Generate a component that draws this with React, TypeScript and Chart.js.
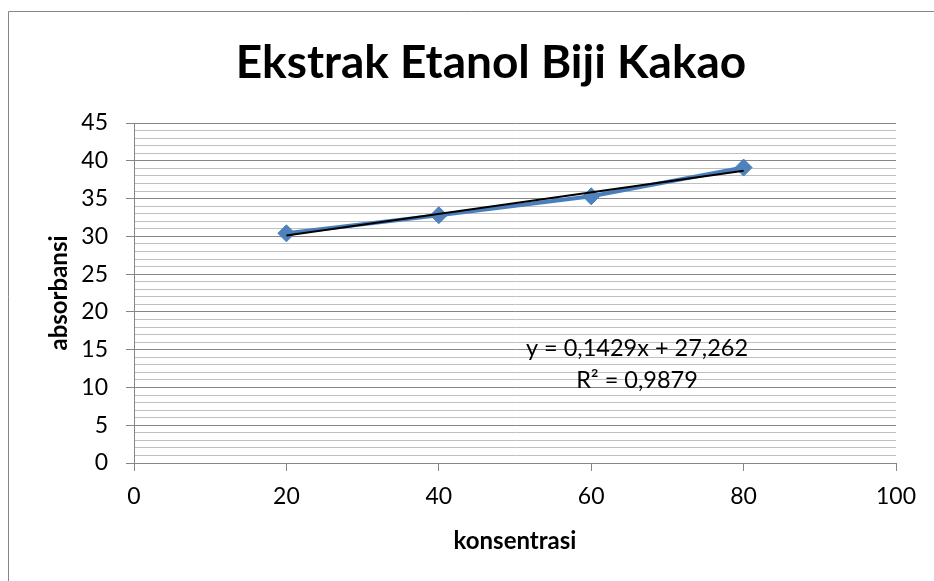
import React, { useEffect, useRef } from 'react';
import { Chart, registerables } from 'chart.js';

Chart.register(...registerables);

// ---- data ----
const concentrations = [20, 40, 60, 80];
const absorbance = [30.4, 32.8, 35.3, 39.1];
const trendSlope = 0.1429;
const trendIntercept = 27.262;
const equationText = 'y = 0,1429x + 27,262';
const rSquaredText = 'R² = 0,9879';
const titleText = 'Ekstrak Etanol Biji Kakao';
const xTitle = 'konsentrasi';
const yTitle = 'absorbansi';
const xMin = 0;
const xMax = 100;
const xStep = 20;
const yMin = 0;
const yMax = 45;
const yMajorStep = 5;
const yMinorStep = 1;

const FONT = 'Lato, "Open Sans", "DejaVu Sans", sans-serif';
const AXIS_GRAY = '#868686';
const MINOR_GRAY = '#bfbfbf';

const decorPlugin = {
  id: 'decor',
  beforeDraw(chart: any) {
    const { ctx, width, height } = chart;
    ctx.save();
    ctx.fillStyle = '#ffffff';
    ctx.fillRect(0, 0, width, height);
    ctx.strokeStyle = AXIS_GRAY;
    ctx.lineWidth = 1;
    ctx.beginPath();
    ctx.moveTo(8.5, height);
    ctx.lineTo(8.5, 11.5);
    ctx.lineTo(width, 11.5);
    ctx.stroke();
    ctx.restore();
  },
  afterDraw(chart: any) {
    const { ctx, chartArea } = chart;
    const cx = (chartArea.left + chartArea.right) / 2;
    const cy = (chartArea.top + chartArea.bottom) / 2;
    ctx.save();
    ctx.fillStyle = '#000';
    // title
    ctx.font = `bold 46px ${FONT}`;
    ctx.textAlign = 'center';
    ctx.textBaseline = 'alphabetic';
    ctx.fillText(titleText, 491, 78);
    // x title
    ctx.font = `bold 24px ${FONT}`;
    ctx.fillText(xTitle, cx, 549);
    // y title
    ctx.save();
    ctx.translate(67, cy);
    ctx.rotate(-Math.PI / 2);
    ctx.fillText(yTitle, 0, 0);
    ctx.restore();
    // trendline label
    ctx.font = `23.5px ${FONT}`;
    ctx.fillText(equationText, 637, 356);
    ctx.fillText(rSquaredText, 637, 388);
    ctx.restore();
  },
};

export default function App() {
  const ref = useRef<HTMLCanvasElement | null>(null);

  useEffect(() => {
    const canvas = ref.current;
    if (!canvas) return;
    const trendData = [
      { x: concentrations[0], y: trendSlope * concentrations[0] + trendIntercept },
      {
        x: concentrations[concentrations.length - 1],
        y: trendSlope * concentrations[concentrations.length - 1] + trendIntercept,
      },
    ];
    const chart = new Chart(canvas, {
      type: 'scatter',
      data: {
        datasets: [
          {
            label: 'Linear',
            data: trendData,
            showLine: true,
            borderColor: '#000000',
            borderWidth: 2,
            pointRadius: 0,
            pointHoverRadius: 0,
          },
          {
            label: 'absorbansi',
            data: concentrations.map((x, i) => ({ x, y: absorbance[i] })),
            showLine: true,
            borderColor: '#4a7ebb',
            borderWidth: 4,
            pointStyle: 'rectRot',
            pointRadius: 8.5,
            pointBackgroundColor: '#4f81bd',
            pointBorderColor: '#4a7ebb',
            pointBorderWidth: 1,
          },
        ],
      },
      options: {
        animation: false,
        responsive: false,
        maintainAspectRatio: false,
        layout: { padding: { top: 123, right: 38, left: 0, bottom: 0 } },
        plugins: {
          legend: { display: false },
          title: { display: false },
          tooltip: { enabled: false },
        },
        scales: {
          x: {
            type: 'linear',
            min: xMin,
            max: xMax,
            ticks: {
              stepSize: xStep,
              color: '#000',
              font: { family: FONT, size: 23 },
              padding: 12,
            },
            grid: {
              drawOnChartArea: false,
              tickLength: 8,
              color: AXIS_GRAY,
              tickColor: AXIS_GRAY,
            },
            border: { color: AXIS_GRAY, width: 1 },
            afterFit: (s: any) => {
              s.height = 118;
            },
          },
          y: {
            type: 'linear',
            min: yMin,
            max: yMax,
            ticks: {
              stepSize: yMinorStep,
              autoSkip: false,
              color: '#000',
              font: { family: FONT, size: 23 },
              padding: 18,
              callback: (v: any) => (Number(v) % yMajorStep === 0 ? String(v) : ''),
            },
            grid: {
              color: (c: any) => (c.tick && c.tick.value % yMajorStep === 0 ? AXIS_GRAY : MINOR_GRAY),
              tickColor: (c: any) =>
                c.tick && c.tick.value % yMajorStep === 0 ? AXIS_GRAY : 'rgba(0,0,0,0)',
              tickLength: 8,
              lineWidth: 1,
            },
            border: { color: AXIS_GRAY, width: 1 },
            afterFit: (s: any) => {
              s.width = 134;
            },
          },
        },
      },
      plugins: [decorPlugin],
    });
    return () => chart.destroy();
  }, []);

  return (
    <div style={{ position: 'absolute', left: 0, top: 0, width: 934, height: 581 }}>
      <canvas ref={ref} width={934} height={581} style={{ width: 934, height: 581, display: 'block' }} />
    </div>
  );
}
